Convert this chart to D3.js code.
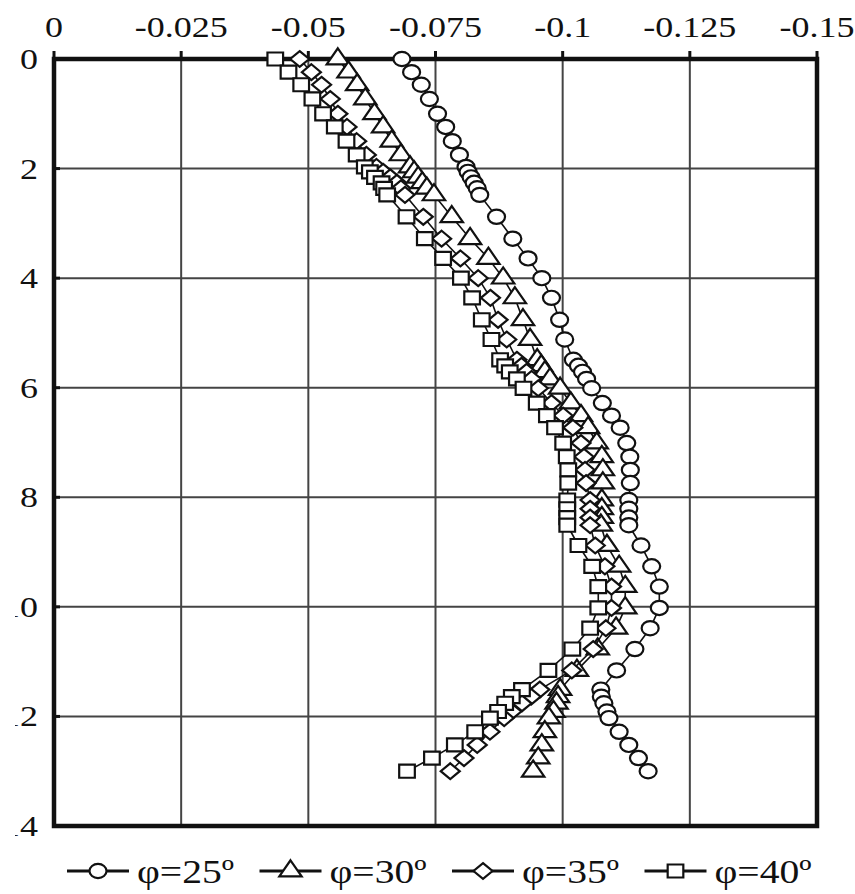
<!DOCTYPE html>
<html>
<head>
<meta charset="utf-8">
<script src="https://cdn.jsdelivr.net/npm/d3@7/dist/d3.min.js"></script>
<style>
	body { margin: 0; background: #fff; }
	.grid line { stroke: #444; stroke-width: 2px; }
	.frame { fill: none; stroke: #111; stroke-width: 4.5px; }
	.tick { stroke: #111; stroke-width: 3px; }
	.line { fill: none; stroke: #111; stroke-width: 1.6px; }
	.mark { fill: #fff; stroke: #111; stroke-width: 2.2px; }
</style>
</head>
<body>
<script>

var width = 855,
	height = 894,
	sx = 1.2; // the picture is a bit stretched sideways

// depth below the top, shared by the four curves
var depth = [0, 0.24, 0.47, 0.73, 1.0, 1.24, 1.5, 1.75, 1.97, 2.06, 2.16, 2.26, 2.36, 2.48, 2.88, 3.28, 3.64, 4.0, 4.36, 4.76,
	5.12, 5.49, 5.6, 5.71, 5.84, 6.01, 6.28, 6.51, 6.73, 7.01, 7.26, 7.5, 7.74, 8.05, 8.21, 8.37, 8.51, 8.88, 9.26, 9.63,
	10.02, 10.39, 10.77, 11.16, 11.51, 11.64, 11.76, 11.91, 12.03, 12.28, 12.52, 12.76, 13.0];

var phi25 = [-0.0684, -0.0703, -0.0722, -0.0738, -0.0754, -0.0770, -0.0783, -0.0797, -0.0810, -0.0814, -0.0820, -0.0826, -0.0832, -0.0837,
	-0.0870, -0.0902, -0.0932, -0.0959, -0.0978, -0.0994, -0.1004, -0.1021, -0.1031, -0.1039, -0.1047, -0.1057, -0.1078, -0.1096,
	-0.1113, -0.1126, -0.1132, -0.1133, -0.1133, -0.1130, -0.1130, -0.1130, -0.1130, -0.1154, -0.1175, -0.1190, -0.1190, -0.1172,
	-0.1142, -0.1106, -0.1075, -0.1076, -0.1081, -0.1087, -0.1091, -0.1111, -0.1130, -0.1149, -0.1168];

var phi30 = [-0.0558, -0.0579, -0.0596, -0.0612, -0.0630, -0.0647, -0.0664, -0.0682, -0.0700, -0.0708, -0.0716, -0.0724, -0.0733, -0.0747,
	-0.0782, -0.0818, -0.0854, -0.0883, -0.0906, -0.0922, -0.0936, -0.0950, -0.0958, -0.0965, -0.0975, -0.0995, -0.1016, -0.1036,
	-0.1050, -0.1067, -0.1077, -0.1079, -0.1079, -0.1077, -0.1077, -0.1077, -0.1075, -0.1087, -0.1111, -0.1123, -0.1123, -0.1105,
	-0.1069, -0.1028, -0.0995, -0.0991, -0.0988, -0.0982, -0.0973, -0.0965, -0.0959, -0.0952, -0.0942];

var phi35 = [-0.0483, -0.0506, -0.0526, -0.0543, -0.0558, -0.0576, -0.0595, -0.0614, -0.0634, -0.0647, -0.0661, -0.0674, -0.0682, -0.0690,
	-0.0726, -0.0762, -0.0799, -0.0834, -0.0858, -0.0873, -0.0890, -0.0910, -0.0919, -0.0929, -0.0939, -0.0952, -0.0978, -0.1001,
	-0.1020, -0.1036, -0.1042, -0.1044, -0.1046, -0.1054, -0.1054, -0.1054, -0.1054, -0.1064, -0.1083, -0.1096, -0.1096, -0.1085,
	-0.1060, -0.1018, -0.0955, -0.0938, -0.0920, -0.0900, -0.0885, -0.0857, -0.0832, -0.0806, -0.0779];

var phi40 = [-0.0435, -0.0461, -0.0486, -0.0508, -0.0529, -0.0552, -0.0575, -0.0595, -0.0611, -0.0621, -0.0631, -0.0644, -0.0649, -0.0655,
	-0.0693, -0.0729, -0.0765, -0.0800, -0.0822, -0.0841, -0.0860, -0.0877, -0.0887, -0.0896, -0.0910, -0.0923, -0.0949, -0.0969,
	-0.0985, -0.1001, -0.1008, -0.1011, -0.1011, -0.1009, -0.1009, -0.1009, -0.1009, -0.1031, -0.1058, -0.1070, -0.1070, -0.1054,
	-0.1019, -0.0972, -0.0920, -0.0900, -0.0887, -0.0873, -0.0857, -0.0828, -0.0788, -0.0743, -0.0694];

var seriesNames = ["φ=25º", "φ=30º", "φ=35º", "φ=40º"];
var xTicks = [0, -0.025, -0.05, -0.075, -0.1, -0.125, -0.15];
var xTickLabels = ["0", "-0.025", "-0.05", "-0.075", "-0.1", "-0.125", "-0.15"];
var yTicks = [0, 2, 4, 6, 8, 10, 12, 14];

// open diamond, as a square turned on its corner
var symbolRhomb = {
	draw: function(context, size) {
		var r = Math.sqrt(size) * 0.62625;
		context.moveTo(0, -r);
		context.lineTo(r, 0);
		context.lineTo(0, r);
		context.lineTo(-r, 0);
		context.closePath();
	}
};

var shapes = [
	d3.symbol().type(d3.symbolCircle).size(158),
	d3.symbol().type(d3.symbolTriangle).size(150),
	d3.symbol().type(symbolRhomb).size(160),
	d3.symbol().type(d3.symbolSquare).size(170)
];

var series = [phi25, phi30, phi35, phi40].map(function(vals, i) {
	return { name: seriesNames[i], shape: shapes[i], points: vals.map(function(v, j) { return { d: depth[j], v: v }; }) };
});

var x = d3.scaleLinear().domain([0, -0.15]).range([54, 817]);
var y = d3.scaleLinear().domain([0, 14]).range([59, 826]);

var serif = "'Liberation Serif'";

var svg = d3.select("body").append("svg")
	.attr("width", width)
	.attr("height", height);

// grid
var grid = svg.append("g").attr("class", "grid");
grid.selectAll("line.v")
	.data(xTicks.slice(1, -1))
  .enter().append("line")
	.attr("x1", function(d) { return x(d); })
	.attr("x2", function(d) { return x(d); })
	.attr("y1", y(0))
	.attr("y2", y(14));
grid.selectAll("line.h")
	.data(yTicks.slice(1, -1))
  .enter().append("line")
	.attr("x1", x(0))
	.attr("x2", x(-0.15))
	.attr("y1", function(d) { return y(d); })
	.attr("y2", function(d) { return y(d); });

// ticks on the top axis stick out upwards, on the left one inwards
svg.append("g").selectAll("line")
	.data(xTicks)
  .enter().append("line")
	.attr("class", "tick")
	.attr("x1", function(d) { return x(d); })
	.attr("x2", function(d) { return x(d); })
	.attr("y1", y(0) - 8)
	.attr("y2", y(0));
svg.append("g").selectAll("line")
	.data(yTicks)
  .enter().append("line")
	.attr("class", "tick")
	.attr("x1", x(0))
	.attr("x2", x(0) + 6)
	.attr("y1", function(d) { return y(d); })
	.attr("y2", function(d) { return y(d); });

svg.append("rect")
	.attr("class", "frame")
	.attr("x", x(0))
	.attr("y", y(0))
	.attr("width", x(-0.15) - x(0))
	.attr("height", y(14) - y(0));

// top labels
svg.append("g").selectAll("text")
	.data(xTicks)
  .enter().append("text")
	.attr("transform", function(d) { return "translate(" + x(d) + ",37) scale(" + sx + ",1)"; })
	.attr("text-anchor", "middle")
	.style("font-family", serif)
	.style("font-size", "30px")
	.style("fill", "#111")
	.text(function(d, i) { return xTickLabels[i]; });

// left labels; the picture is cut at its left edge
svg.append("clipPath").attr("id", "leftcut")
  .append("rect").attr("x", 15).attr("y", 0).attr("width", 60).attr("height", height);
svg.append("g").attr("clip-path", "url(#leftcut)").selectAll("text")
	.data(yTicks)
  .enter().append("text")
	.attr("transform", function(d) { return "translate(38," + (y(d) + 10) + ") scale(" + sx + ",1)"; })
	.attr("text-anchor", "end")
	.style("font-family", serif)
	.style("font-size", "30px")
	.style("fill", "#111")
	.text(function(d) { return d; });

// curves
var line = d3.line()
	.x(function(p) { return x(p.v); })
	.y(function(p) { return y(p.d); });

var g = svg.selectAll("g.series")
	.data(series)
  .enter().append("g")
	.attr("class", "series");

g.append("path")
	.attr("class", "line")
	.attr("d", function(s) { return line(s.points); });

g.each(function(s) {
	d3.select(this).selectAll("path.mark")
		.data(s.points)
	  .enter().append("path")
		.attr("class", "mark")
		.attr("vector-effect", "non-scaling-stroke")
		.attr("d", s.shape())
		.attr("transform", function(p) { return "translate(" + x(p.v) + "," + y(p.d) + ") scale(" + sx + ",1)"; });
});

// legend
var lx = d3.scaleBand().domain(seriesNames).range([67, 837]);
var ly = 871;
var leg = svg.append("g").selectAll("g")
	.data(series)
  .enter().append("g")
	.attr("transform", function(s) { return "translate(" + lx(s.name) + "," + ly + ")"; });
leg.append("line")
	.attr("x1", 0).attr("x2", 62)
	.attr("y1", 0).attr("y2", 0)
	.style("stroke", "#111")
	.style("stroke-width", "3px");
leg.append("path")
	.attr("class", "mark")
	.attr("vector-effect", "non-scaling-stroke")
	.attr("d", function(s) { return s.shape(); })
	.attr("transform", "translate(31,0) scale(" + sx + ",1)");
leg.append("text")
	.attr("transform", "translate(70,12) scale(" + sx + ",1)")
	.style("font-family", serif)
	.style("font-size", "33px")
	.style("fill", "#111")
	.text(function(s) { return s.name; });

</script>
</body>
</html>
